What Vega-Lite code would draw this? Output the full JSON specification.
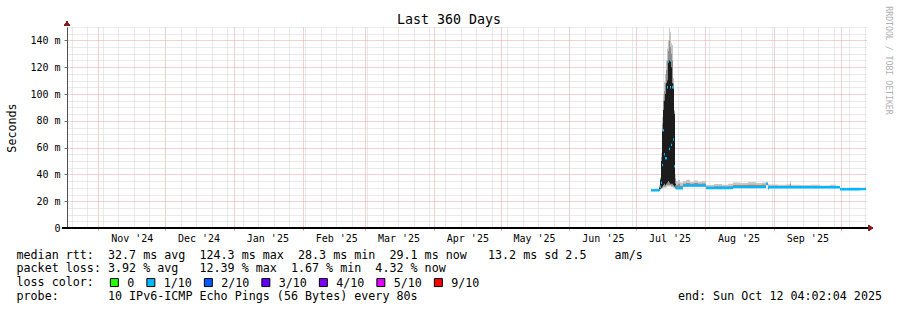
{
  "$schema": "https://vega.github.io/schema/vega-lite/v6.json",
  "autosize": {"type": "none"},
  "padding": {"left": 67, "top": 27, "right": 30, "bottom": 82},
  "width": 800,
  "height": 201,
  "background": "#ffffff",
  "data": {"values": [
    {"t": "2025-07-07T17:14:00Z", "lo": 27.6, "mlo": 27.8, "dlo": 28.1, "dhi": 28.1, "mhi": 28.6, "hi": 29.0, "med": 28.1, "loss": "1/10"},
    {"t": "2025-07-09T12:26:00Z", "lo": 27.6, "mlo": 27.8, "dlo": 28.1, "dhi": 28.1, "mhi": 28.7, "hi": 29.2, "med": 28.1, "loss": "1/10"},
    {"t": "2025-07-10T20:50:00Z", "lo": 27.7, "mlo": 27.9, "dlo": 28.2, "dhi": 28.2, "mhi": 28.8, "hi": 29.3, "med": 28.2, "loss": "1/10"},
    {"t": "2025-07-11T07:38:00Z", "lo": 27.8, "mlo": 28.0, "dlo": 28.2, "dhi": 30, "mhi": 31, "hi": 32, "med": 28.4, "loss": "1/10"},
    {"t": "2025-07-11T18:26:00Z", "lo": 28.5, "mlo": 29, "dlo": 29.5, "dhi": 36, "mhi": 37, "hi": 38, "med": 30.8, "loss": "1/10"},
    {"t": "2025-07-12T05:14:00Z", "lo": 29, "mlo": 29.5, "dlo": 30, "dhi": 50, "mhi": 53, "hi": 56, "med": 33.8, "loss": "1/10"},
    {"t": "2025-07-12T16:02:00Z", "lo": 29.5, "mlo": 30, "dlo": 31, "dhi": 72, "mhi": 78, "hi": 83, "med": 47, "loss": "1/10"},
    {"t": "2025-07-13T02:50:00Z", "lo": 30, "mlo": 31, "dlo": 32, "dhi": 88, "mhi": 95, "hi": 100, "med": 73, "loss": "1/10"},
    {"t": "2025-07-13T13:38:00Z", "lo": 30, "mlo": 31, "dlo": 33, "dhi": 95, "mhi": 102, "hi": 109, "med": 55, "loss": "1/10"},
    {"t": "2025-07-14T00:26:00Z", "lo": 30, "mlo": 31, "dlo": 32, "dhi": 100, "mhi": 108, "hi": 115, "med": 52, "loss": "1/10"},
    {"t": "2025-07-14T11:14:00Z", "lo": 30.5, "mlo": 32, "dlo": 33, "dhi": 108, "mhi": 118, "hi": 125, "med": 52, "loss": "1/10"},
    {"t": "2025-07-14T22:02:00Z", "lo": 31, "mlo": 32, "dlo": 34, "dhi": 110, "mhi": 125, "hi": 134, "med": 105, "loss": "1/10"},
    {"t": "2025-07-15T08:50:00Z", "lo": 31, "mlo": 32, "dlo": 35, "dhi": 125, "mhi": 132, "hi": 140, "med": 124.3, "loss": "1/10"},
    {"t": "2025-07-15T19:38:00Z", "lo": 31, "mlo": 32, "dlo": 34, "dhi": 125, "mhi": 140, "hi": 149, "med": 59, "loss": "1/10"},
    {"t": "2025-07-16T06:26:00Z", "lo": 31, "mlo": 32, "dlo": 33, "dhi": 124, "mhi": 135, "hi": 146, "med": 105, "loss": "1/10"},
    {"t": "2025-07-16T17:14:00Z", "lo": 30.5, "mlo": 31.5, "dlo": 33, "dhi": 120, "mhi": 130, "hi": 138, "med": 62, "loss": "1/10"},
    {"t": "2025-07-17T04:02:00Z", "lo": 30.5, "mlo": 31.5, "dlo": 33, "dhi": 108, "mhi": 125, "hi": 136.6, "med": 105, "loss": "1/10"},
    {"t": "2025-07-17T14:50:00Z", "lo": 30, "mlo": 31, "dlo": 32, "dhi": 104, "mhi": 108, "hi": 112, "med": 66, "loss": "1/10"},
    {"t": "2025-07-18T01:38:00Z", "lo": 30, "mlo": 30.5, "dlo": 31, "dhi": 85, "mhi": 87, "hi": 88, "med": 46, "loss": "1/10"},
    {"t": "2025-07-18T12:26:00Z", "lo": 29, "mlo": 29.5, "dlo": 30, "dhi": 33, "mhi": 37, "hi": 40, "med": 31, "loss": "1/10"},
    {"t": "2025-07-18T23:14:00Z", "lo": 29.1, "mlo": 29.3, "dlo": 29.6, "dhi": 29.6, "mhi": 32, "hi": 35, "med": 29.6, "loss": "1/10"},
    {"t": "2025-07-19T20:50:00Z", "lo": 29.1, "mlo": 29.3, "dlo": 29.6, "dhi": 29.6, "mhi": 33, "hi": 36, "med": 29.6, "loss": "1/10"},
    {"t": "2025-07-20T18:26:00Z", "lo": 29.1, "mlo": 29.3, "dlo": 29.6, "dhi": 29.6, "mhi": 31.5, "hi": 34, "med": 29.6, "loss": "1/10"},
    {"t": "2025-07-22T02:50:00Z", "lo": 31, "mlo": 31.2, "dlo": 31.6, "dhi": 31.6, "mhi": 33, "hi": 35, "med": 31.6, "loss": "1/10"},
    {"t": "2025-07-23T11:30:00Z", "lo": 31, "mlo": 31.2, "dlo": 31.6, "dhi": 31.6, "mhi": 33.5, "hi": 36, "med": 31.6, "loss": "1/10"},
    {"t": "2025-07-25T05:50:00Z", "lo": 31, "mlo": 31.2, "dlo": 31.6, "dhi": 31.6, "mhi": 33, "hi": 34.5, "med": 31.6, "loss": "1/10"},
    {"t": "2025-07-27T01:00:00Z", "lo": 31, "mlo": 31.2, "dlo": 31.6, "dhi": 31.6, "mhi": 33.5, "hi": 35.5, "med": 31.6, "loss": "1/10"},
    {"t": "2025-07-28T20:12:00Z", "lo": 31, "mlo": 31.2, "dlo": 31.6, "dhi": 31.6, "mhi": 33, "hi": 34.5, "med": 31.6, "loss": "1/10"},
    {"t": "2025-07-30T15:24:00Z", "lo": 31, "mlo": 31.2, "dlo": 31.6, "dhi": 31.6, "mhi": 33.2, "hi": 35, "med": 31.6, "loss": "1/10"},
    {"t": "2025-08-01T11:14:00Z", "lo": 29.3, "mlo": 29.5, "dlo": 29.8, "dhi": 29.8, "mhi": 30.8, "hi": 32, "med": 29.8, "loss": "1/10"},
    {"t": "2025-08-05T01:36:00Z", "lo": 29.3, "mlo": 29.5, "dlo": 29.8, "dhi": 29.8, "mhi": 31.2, "hi": 32.8, "med": 29.8, "loss": "1/10"},
    {"t": "2025-08-08T16:00:00Z", "lo": 29.3, "mlo": 29.5, "dlo": 29.8, "dhi": 29.8, "mhi": 31, "hi": 32.3, "med": 29.8, "loss": "1/10"},
    {"t": "2025-08-11T08:50:00Z", "lo": 29.3, "mlo": 29.5, "dlo": 29.8, "dhi": 29.8, "mhi": 31.2, "hi": 33, "med": 29.8, "loss": "1/10"},
    {"t": "2025-08-13T14:12:00Z", "lo": 30, "mlo": 30.2, "dlo": 30.5, "dhi": 30.5, "mhi": 32, "hi": 34, "med": 30.5, "loss": "1/10"},
    {"t": "2025-08-16T17:50:00Z", "lo": 30, "mlo": 30.2, "dlo": 30.5, "dhi": 30.5, "mhi": 32, "hi": 33.5, "med": 30.5, "loss": "1/10"},
    {"t": "2025-08-20T08:12:00Z", "lo": 30, "mlo": 30.2, "dlo": 30.5, "dhi": 30.5, "mhi": 32.3, "hi": 34.3, "med": 30.5, "loss": "1/10"},
    {"t": "2025-08-23T22:36:00Z", "lo": 30, "mlo": 30.2, "dlo": 30.5, "dhi": 30.5, "mhi": 32, "hi": 33.5, "med": 30.5, "loss": "1/10"},
    {"t": "2025-08-26T16:00:00Z", "lo": 30, "mlo": 30.2, "dlo": 30.5, "dhi": 30.5, "mhi": 32.2, "hi": 34, "med": 30.5, "loss": "1/10"},
    {"t": "2025-08-28T10:36:00Z", "lo": 32, "mlo": 32.3, "dlo": 32.8, "dhi": 32.8, "mhi": 33.5, "hi": 34.5, "med": 32.8, "loss": "1/10"},
    {"t": "2025-08-29T08:12:00Z", "lo": 29.2, "mlo": 29.4, "dlo": 29.6, "dhi": 29.6, "mhi": 31.5, "hi": 33, "med": 29.6, "loss": "1/10"},
    {"t": "2025-08-29T19:00:00Z", "lo": 30, "mlo": 30.2, "dlo": 30.4, "dhi": 30.4, "mhi": 31.5, "hi": 32.5, "med": 30.4, "loss": "1/10"},
    {"t": "2025-09-02T20:12:00Z", "lo": 30, "mlo": 30.2, "dlo": 30.4, "dhi": 30.4, "mhi": 31.3, "hi": 32.2, "med": 30.4, "loss": "1/10"},
    {"t": "2025-09-06T10:36:00Z", "lo": 30, "mlo": 30.2, "dlo": 30.4, "dhi": 30.4, "mhi": 31.5, "hi": 32.5, "med": 30.4, "loss": "1/10"},
    {"t": "2025-09-08T05:50:00Z", "lo": 30, "mlo": 30.2, "dlo": 30.4, "dhi": 30.4, "mhi": 33, "hi": 35, "med": 30.4, "loss": "1/10"},
    {"t": "2025-09-08T16:36:00Z", "lo": 30, "mlo": 30.2, "dlo": 30.4, "dhi": 30.4, "mhi": 31.3, "hi": 32.3, "med": 30.4, "loss": "1/10"},
    {"t": "2025-09-12T17:50:00Z", "lo": 30, "mlo": 30.2, "dlo": 30.4, "dhi": 30.4, "mhi": 31.2, "hi": 32, "med": 30.4, "loss": "1/10"},
    {"t": "2025-09-17T05:50:00Z", "lo": 30, "mlo": 30.2, "dlo": 30.4, "dhi": 30.4, "mhi": 31.3, "hi": 32.3, "med": 30.4, "loss": "1/10"},
    {"t": "2025-09-21T17:50:00Z", "lo": 30, "mlo": 30.2, "dlo": 30.4, "dhi": 30.4, "mhi": 31.1, "hi": 31.8, "med": 30.4, "loss": "1/10"},
    {"t": "2025-09-26T05:50:00Z", "lo": 30, "mlo": 30.2, "dlo": 30.4, "dhi": 30.4, "mhi": 31.3, "hi": 32.2, "med": 30.4, "loss": "1/10"},
    {"t": "2025-09-28T22:36:00Z", "lo": 30, "mlo": 30.2, "dlo": 30.4, "dhi": 30.4, "mhi": 31, "hi": 31.5, "med": 30.4, "loss": "1/10"},
    {"t": "2025-09-30T18:26:00Z", "lo": 28.5, "mlo": 28.7, "dlo": 28.9, "dhi": 28.9, "mhi": 29.5, "hi": 30, "med": 28.9, "loss": "1/10"},
    {"t": "2025-10-05T06:26:00Z", "lo": 28.5, "mlo": 28.7, "dlo": 28.9, "dhi": 28.9, "mhi": 29.6, "hi": 30.2, "med": 28.9, "loss": "1/10"},
    {"t": "2025-10-09T18:26:00Z", "lo": 28.6, "mlo": 28.8, "dlo": 29.0, "dhi": 29.0, "mhi": 29.5, "hi": 30, "med": 29.0, "loss": "1/10"},
    {"t": "2025-10-12T00:26:00Z", "lo": 28.7, "mlo": 28.9, "dlo": 29.1, "dhi": 29.1, "mhi": 29.5, "hi": 29.8, "med": 29.1, "loss": "1/10"},
    {"t": "2025-10-12T11:14:00Z", "lo": 28.7, "mlo": 28.9, "dlo": 29.1, "dhi": 29.1, "mhi": 29.5, "hi": 29.8, "med": 29.1, "loss": "1/10"}
  ]},
  "layer": [
    {
      "mark": {"type": "area", "interpolate": "step-after", "color": "#c6c6c6"},
      "encoding": {
        "x": {
          "field": "t", "type": "temporal",
          "scale": {"type": "utc", "domain": [{"year": 2024, "month": 10, "date": 17, "hours": 22, "utc": true}, {"year": 2025, "month": 10, "date": 12, "hours": 22, "utc": true}]},
          "axis": {
            "tickCount": {"interval": "month", "step": 1},
            "grid": true, "gridColor": "#eaa0a0", "gridDash": [1, 1], "gridWidth": 1,
            "domain": false,
            "ticks": true, "tickSize": 2, "tickColor": "#e08080",
            "labelExpr": "utcyear(datum.value) === 2025 && utcmonth(datum.value) === 9 ? '' : utcFormat(datum.value, \"%b '%y\")",
            "labelOffset": 33.5, "labelAlign": "center", "labelBaseline": "top", "labelPadding": 3,
            "labelFont": "DejaVu Sans Mono", "labelFontSize": 10, "labelColor": "#000000",
            "labelOverlap": false, "labelFlush": false, "labelBound": false, "labelLimit": 200,
            "title": [
              "median rtt:\u00a0\u00a032.7 ms avg\u00a0\u00a0124.3 ms max\u00a0\u00a028.3 ms min\u00a0\u00a029.1 ms now\u00a0\u00a0\u00a013.2 ms sd\u00a02.5\u00a0\u00a0\u00a0\u00a0am/s",
              "packet loss: 3.92 % avg\u00a0\u00a0\u00a012.39 % max\u00a0\u00a01.67 % min\u00a0\u00a04.32 % now",
              "loss color:",
              "probe:\u00a0\u00a0\u00a0\u00a0\u00a0\u00a0\u00a010 IPv6-ICMP Echo Pings (56 Bytes) every 80s\u00a0\u00a0\u00a0\u00a0\u00a0\u00a0\u00a0\u00a0\u00a0\u00a0\u00a0\u00a0\u00a0\u00a0\u00a0\u00a0\u00a0\u00a0\u00a0\u00a0\u00a0\u00a0\u00a0\u00a0\u00a0\u00a0\u00a0\u00a0\u00a0\u00a0\u00a0\u00a0\u00a0\u00a0\u00a0\u00a0\u00a0end: Sun Oct 12 04:02:04 2025"
            ],
            "titleX": -51, "titleY": 21, "titleAlign": "left", "titleBaseline": "top", "titleAngle": 0,
            "titleFont": "DejaVu Sans Mono", "titleFontSize": 11.7, "titleFontWeight": "normal", "titleColor": "#000000",
            "titleLineHeight": 13.8, "titleLimit": 2000
          }
        },
        "y": {
          "field": "hi", "type": "quantitative",
          "scale": {"domain": [0, 150], "nice": false, "zero": true},
          "axis": {
            "values": [0, 5, 10, 15, 20, 25, 30, 35, 40, 45, 50, 55, 60, 65, 70, 75, 80, 85, 90, 95, 100, 105, 110, 115, 120, 125, 130, 135, 140, 145, 150],
            "grid": true,
            "gridColor": {"condition": {"test": "datum.value % 20 === 0", "value": "#eaa0a0"}, "value": "#d4d4d4"},
            "gridDash": [1, 1], "gridWidth": 1,
            "domain": true, "domainColor": "#505050", "domainWidth": 1,
            "ticks": true, "tickSize": 3, "tickColor": "#707070",
            "tickOpacity": {"condition": {"test": "datum.value % 20 === 0", "value": 1}, "value": 0},
            "labelExpr": "datum.value === 0 ? '0\u00a0\u00a0' : (datum.value % 20 === 0 ? datum.value + ' m' : '')",
            "labelFont": "DejaVu Sans Mono", "labelFontSize": 10, "labelColor": "#000000", "labelPadding": 4,
            "labelOverlap": false, "labelFlush": false, "labelBound": false,
            "title": "Seconds", "titleAngle": 270, "titleX": -56, "titleY": 100.5, "titleAlign": "center", "titleBaseline": "middle",
            "titleFont": "DejaVu Sans Mono", "titleFontSize": 11.7, "titleFontWeight": "normal", "titleColor": "#000000"
          }
        },
        "y2": {"field": "lo"}
      }
    },
    {
      "mark": {"type": "area", "interpolate": "step-after", "color": "#8e8e8e"},
      "encoding": {
        "x": {"field": "t", "type": "temporal", "axis": null},
        "y": {"field": "mhi", "type": "quantitative", "axis": null},
        "y2": {"field": "mlo"}
      }
    },
    {
      "mark": {"type": "area", "interpolate": "step-after", "color": "#1c1c1c"},
      "encoding": {
        "x": {
          "field": "t", "type": "temporal",
          "axis": {
            "orient": "top",
            "tickCount": {"interval": "week", "step": 1},
            "grid": true, "gridColor": "#d4d4d4", "gridDash": [1, 1], "gridWidth": 1,
            "domain": false, "labels": false, "ticks": false,
            "title": "Last 360 Days", "titleX": 381.5, "titleY": -3.5, "titleAlign": "center", "titleBaseline": "alphabetic", "titleAngle": 0,
            "titleFont": "DejaVu Sans Mono", "titleFontSize": 13.3, "titleFontWeight": "normal", "titleColor": "#000000"
          }
        },
        "y": {
          "field": "dhi", "type": "quantitative",
          "axis": {
            "orient": "right", "grid": false, "labels": false, "ticks": false, "domain": false,
            "title": "RRDTOOL / TOBI OETIKER", "titleAngle": 90, "titleX": 20.5, "titleY": 33,
            "titleAlign": "center", "titleBaseline": "middle",
            "titleFont": "DejaVu Sans Mono", "titleFontSize": 8.2, "titleFontWeight": "normal", "titleColor": "#b0b0b0"
          }
        },
        "y2": {"field": "dlo"}
      }
    },
    {
      "mark": {"type": "area", "interpolate": "step-after", "yOffset": -1.2, "y2Offset": 1.2},
      "encoding": {
        "x": {"field": "t", "type": "temporal", "axis": null},
        "y": {"field": "med", "type": "quantitative", "axis": null},
        "y2": {"field": "med"},
        "color": {
          "field": "loss", "type": "nominal",
          "scale": {"domain": ["0", "1/10", "2/10", "3/10", "4/10", "5/10", "9/10"], "range": ["#26ff00", "#00b8ff", "#0059ff", "#5e00ff", "#7e00ff", "#dd00ff", "#ff0000"]},
          "legend": {
            "orient": "none", "legendX": 41.5, "legendY": 249.5, "direction": "horizontal", "title": null,
            "symbolType": "square", "symbolSize": 64, "symbolStrokeWidth": 1, "symbolStrokeColor": "#000000", "symbolOpacity": 1,
            "labelFont": "DejaVu Sans Mono", "labelFontSize": 11.7, "labelColor": "#000000", "labelOffset": 7, "labelBaseline": "middle",
            "columnPadding": 9.5, "padding": 0,
            "encode": {"symbols": {"update": {"fill": {"scale": "color", "field": "value"}, "stroke": {"value": "#000000"}, "strokeWidth": {"value": 1}, "opacity": {"value": 1}}}}
          }
        }
      }
    },
    {
      "mark": {"type": "rule", "color": "#000000", "strokeWidth": 1},
      "encoding": {
        "x": {"datum": {"year": 2024, "month": 10, "date": 15, "hours": 16, "utc": true}, "type": "temporal", "axis": null},
        "x2": {"datum": {"year": 2025, "month": 10, "date": 13, "hours": 10, "utc": true}},
        "y": {"datum": 0, "type": "quantitative", "axis": null}
      }
    },
    {
      "mark": {"type": "point", "shape": "triangle-right", "filled": true, "color": "#801f1f", "size": 30, "opacity": 1},
      "encoding": {
        "x": {"datum": {"year": 2025, "month": 10, "date": 14, "hours": 12, "utc": true}, "type": "temporal", "axis": null},
        "y": {"datum": 0, "type": "quantitative", "axis": null}
      }
    },
    {
      "mark": {"type": "point", "shape": "triangle-up", "filled": true, "color": "#801f1f", "size": 30, "opacity": 1},
      "encoding": {
        "x": {"datum": {"year": 2024, "month": 10, "date": 17, "hours": 22, "utc": true}, "type": "temporal", "axis": null},
        "y": {"datum": 152.6, "type": "quantitative", "axis": null}
      }
    }
  ],
  "resolve": {"axis": {"x": "independent", "y": "independent"}},
  "config": {
    "view": {"stroke": null},
    "font": "DejaVu Sans Mono"
  }
}
